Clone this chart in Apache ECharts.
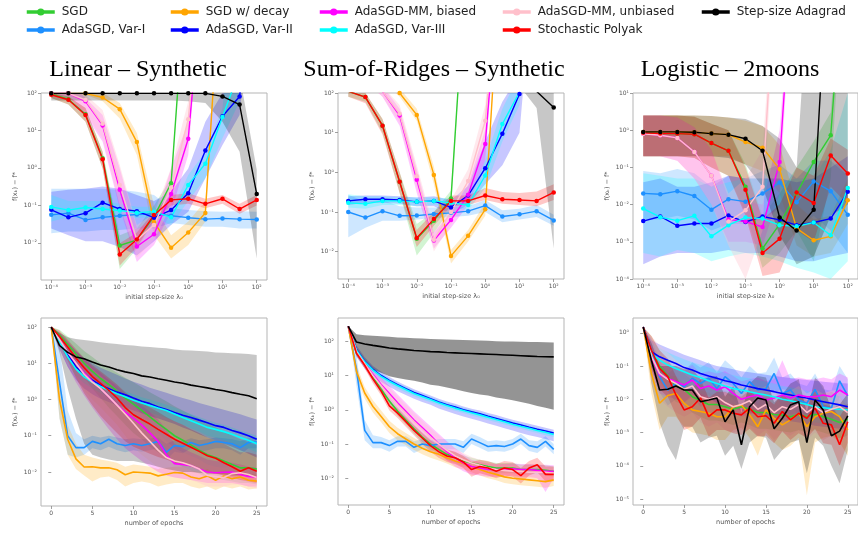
<!DOCTYPE html>
<html>
<head>
<meta charset="utf-8">
<script src="https://cdn.jsdelivr.net/npm/echarts@6/dist/echarts.min.js"></script>
<style>
  html, body { margin: 0; padding: 0; background: #fff; }
  #chart { width: 858px; height: 535px; }
</style>
</head>
<body>
<div id="chart"></div>
<script>
// x values
const steps = [1e-4, 3.16e-4, 1e-3, 3.16e-3, 1e-2, 3.16e-2, 1e-1, 3.16e-1, 1, 3.16, 10, 31.6, 100];
const epochs = [0, 1, 2, 3, 4, 5, 6, 7, 8, 9, 10, 11, 12, 13, 14, 15, 16, 17, 18, 19, 20, 21, 22, 23, 24, 25];
const stepTicks = [1e-4, 1e-3, 1e-2, 1e-1, 1, 10, 100];
const epochTicks = [0, 5, 10, 15, 20, 25];

const titles = ['Linear \u2013 Synthetic', 'Sum-of-Ridges \u2013 Synthetic', 'Logistic \u2013 2moons'];

// drawing order (same as the legend, column by column)
const keys = ['sgd', 'v1', 'decay', 'v2', 'mmb', 'v3', 'mmu', 'polyak', 'ada'];
const names = {
  sgd: 'SGD', v1: 'AdaSGD, Var-I', decay: 'SGD w/ decay', v2: 'AdaSGD, Var-II',
  mmb: 'AdaSGD-MM, biased', v3: 'AdaSGD, Var-III', mmu: 'AdaSGD-MM, unbiased',
  polyak: 'Stochastic Polyak', ada: 'Step-size Adagrad'
};
const colors = {
  sgd: '#32cd32', v1: '#1e90ff', decay: '#ffa500', v2: '#0000ff', mmb: '#ff00ff',
  v3: '#00ffff', mmu: '#ffc0cb', polyak: '#ff0000', ada: '#000000'
};

// ---- Linear - Synthetic, vs step-size ----
const linStepMid = {
  sgd:    [95, 68, 27, 1.8, 0.0085, 0.012, 0.05, 0.39, 1e6, 1e6, 1e6, 1e6, 1e6],
  decay:  [98, 98, 98, 76, 37, 4.9, 0.036, 0.0074, 0.019, 0.063, 1e6, 1e6, 1e6],
  mmb:    [98, 98, 60, 13.6, 0.26, 0.008, 0.017, 0.2, 6, 1e6, 1e6, 1e6, 1e6],
  mmu:    [98, 98, 65, 15, 0.35, 0.012, 0.03, 0.3, 20, 1e6, 1e6, 1e6, 1e6],
  ada:    [98, 98, 98, 98, 98, 98, 98, 98, 98, 98, 81, 49, 0.2],
  v1:     [0.056, 0.062, 0.041, 0.048, 0.053, 0.057, 0.06, 0.053, 0.047, 0.043, 0.045, 0.043, 0.042],
  v2:     [0.076, 0.048, 0.062, 0.118, 0.08, 0.07, 0.047, 0.075, 0.21, 2.9, 24, 81, 1e6],
  v3:     [0.091, 0.075, 0.088, 0.08, 0.073, 0.064, 0.068, 0.048, 0.35, 1.3, 23, 400, 1e6],
  polyak: [90, 66, 26, 1.7, 0.0049, 0.0123, 0.055, 0.14, 0.15, 0.11, 0.15, 0.08, 0.14]
};
const linStepLo = {
  sgd:    [73, 49, 17, 0.97, 0.002, 0.007, 0.037, 0.28, 1e6, 1e6, 1e6, 1e6, 1e6],
  decay:  [90, 90, 90, 60, 21, 2.2, 0.016, 0.0038, 0.0087, 0.037, 1e6, 1e6, 1e6],
  mmb:    [90, 81, 26, 5, 0.084, 0.0031, 0.0087, 0.068, 2.2, 1e6, 1e6, 1e6, 1e6],
  mmu:    [90, 81, 30, 6, 0.1, 0.004, 0.012, 0.1, 5, 1e6, 1e6, 1e6, 1e6],
  ada:    [63, 63, 63, 63, 63, 63, 63, 63, 60, 54, 17, 2.7, 0.0038],
  v1:     [0.018, 0.02, 0.02, 0.022, 0.022, 0.024, 0.024, 0.034, 0.03, 0.027, 0.027, 0.024, 0.024],
  v2:     [0.024, 0.016, 0.011, 0.011, 0.0077, 0.0046, 0.011, 0.03, 0.068, 0.53, 4.1, 26, 1e6],
  v3:     [0.037, 0.048, 0.046, 0.046, 0.048, 0.046, 0.048, 0.03, 0.13, 0.53, 6.2, 60, 1e6],
  polyak: [73, 49, 17, 0.97, 0.0025, 0.0077, 0.04, 0.1, 0.11, 0.084, 0.11, 0.06, 0.1]
};
const linStepHi = {
  sgd:    [100, 81, 40, 2.7, 0.016, 0.024, 0.1, 0.53, 1e6, 1e6, 1e6, 1e6, 1e6],
  decay:  [200, 200, 200, 100, 54, 8.5, 0.1, 0.016, 0.037, 0.13, 1e6, 1e6, 1e6],
  mmb:    [200, 200, 73, 26, 0.97, 0.024, 0.037, 0.97, 17, 1e6, 1e6, 1e6, 1e6],
  mmu:    [200, 200, 90, 35, 1.2, 0.03, 0.06, 1.0, 60, 1e6, 1e6, 1e6, 1e6],
  ada:    [300, 300, 300, 300, 300, 300, 300, 300, 300, 300, 300, 300, 0.9],
  v1:     [0.28, 0.28, 0.28, 0.28, 0.26, 0.23, 0.19, 0.084, 0.075, 0.07, 0.068, 0.07, 0.068],
  v2:     [0.23, 0.26, 0.28, 0.32, 0.28, 0.19, 0.13, 0.23, 0.97, 17, 100, 1e6, 1e6],
  v3:     [0.19, 0.13, 0.13, 0.13, 0.11, 0.092, 0.092, 0.068, 0.65, 2.7, 40, 1e6, 1e6],
  polyak: [100, 81, 40, 2.7, 0.0097, 0.019, 0.068, 0.19, 0.21, 0.15, 0.19, 0.11, 0.19]
};

// ---- Sum-of-Ridges - Synthetic, vs step-size ----
const ridgeStepMid = {
  sgd:    [110, 79, 15, 0.58, 0.021, 0.06, 0.22, 1e6, 1e6, 1e6, 1e6, 1e6, 1e6],
  decay:  [300, 300, 300, 100, 28, 0.86, 0.0078, 0.025, 0.117, 1e6, 1e6, 1e6, 1e6],
  mmb:    [300, 300, 110, 27, 0.65, 0.019, 0.063, 0.27, 5.2, 1e6, 1e6, 1e6, 1e6],
  mmu:    [300, 300, 110, 30, 0.8, 0.02, 0.1, 0.6, 20, 1e6, 1e6, 1e6, 1e6],
  ada:    [300, 300, 300, 300, 300, 300, 300, 300, 300, 300, 300, 110, 43],
  v1:     [0.1, 0.072, 0.105, 0.08, 0.081, 0.089, 0.095, 0.105, 0.145, 0.077, 0.087, 0.105, 0.061],
  v2:     [0.19, 0.21, 0.21, 0.2, 0.18, 0.19, 0.13, 0.26, 1.27, 9.4, 95, 1e6, 1e6],
  v3:     [0.17, 0.16, 0.19, 0.19, 0.18, 0.19, 0.17, 0.15, 0.83, 16.5, 105, 1e6, 1e6],
  polyak: [110, 79, 15, 0.58, 0.022, 0.066, 0.19, 0.19, 0.26, 0.21, 0.2, 0.19, 0.31]
};
const ridgeStepLo = {
  sgd:    [80, 60, 10, 0.3, 0.008, 0.03, 0.12, 1e6, 1e6, 1e6, 1e6, 1e6, 1e6],
  decay:  [200, 200, 200, 80, 20, 0.5, 0.005, 0.018, 0.08, 1e6, 1e6, 1e6, 1e6],
  mmb:    [200, 200, 80, 15, 0.3, 0.012, 0.04, 0.15, 2, 1e6, 1e6, 1e6, 1e6],
  mmu:    [200, 200, 80, 18, 0.4, 0.01, 0.05, 0.3, 8, 1e6, 1e6, 1e6, 1e6],
  ada:    [200, 200, 200, 200, 200, 200, 200, 200, 200, 200, 150, 42, 0.012],
  v1:     [0.023, 0.04, 0.06, 0.06, 0.065, 0.07, 0.075, 0.08, 0.1, 0.055, 0.065, 0.075, 0.045],
  v2:     [0.15, 0.17, 0.17, 0.16, 0.14, 0.14, 0.09, 0.15, 0.5, 1.5, 10, 1e6, 1e6],
  v3:     [0.13, 0.12, 0.15, 0.15, 0.14, 0.15, 0.13, 0.11, 0.4, 6, 50, 1e6, 1e6],
  polyak: [80, 55, 9, 0.3, 0.013, 0.045, 0.14, 0.15, 0.2, 0.16, 0.15, 0.14, 0.2]
};
const ridgeStepHi = {
  sgd:    [150, 100, 22, 1.0, 0.05, 0.1, 0.35, 1e6, 1e6, 1e6, 1e6, 1e6, 1e6],
  decay:  [500, 500, 500, 130, 40, 1.4, 0.011, 0.035, 0.17, 1e6, 1e6, 1e6, 1e6],
  mmb:    [500, 500, 150, 40, 1.2, 0.03, 0.1, 0.5, 12, 1e6, 1e6, 1e6, 1e6],
  mmu:    [500, 500, 150, 50, 1.5, 0.04, 0.2, 1.2, 50, 1e6, 1e6, 1e6, 1e6],
  ada:    [500, 500, 500, 500, 500, 500, 500, 500, 500, 500, 500, 500, 500],
  v1:     [0.27, 0.18, 0.2, 0.14, 0.13, 0.13, 0.13, 0.14, 0.2, 0.11, 0.12, 0.15, 0.085],
  v2:     [0.25, 0.26, 0.26, 0.25, 0.23, 0.25, 0.2, 0.45, 6, 60, 300, 1e6, 1e6],
  v3:     [0.28, 0.25, 0.25, 0.24, 0.23, 0.23, 0.22, 0.2, 2, 40, 300, 1e6, 1e6],
  polyak: [150, 100, 22, 1.0, 0.035, 0.1, 0.26, 0.26, 0.4, 0.32, 0.3, 0.33, 0.5]
};

// ---- Logistic - 2moons, vs step-size ----
const logStepMid = {
  sgd:    [0.85, 0.81, 0.81, 0.78, 0.45, 0.28, 0.03, 0.00066, 0.003, 0.02, 0.14, 0.73, 1e6],
  decay:  [0.9, 0.9, 0.9, 0.88, 0.81, 0.76, 0.48, 0.34, 0.09, 0.0023, 0.0011, 0.0014, 0.013],
  mmb:    [0.8, 0.73, 0.62, 0.26, 0.06, 0.004, 0.0035, 0.0025, 0.14, 1e6, 1e6, 1e6, 1e6],
  mmu:    [0.8, 0.73, 0.62, 0.26, 0.06, 0.0035, 0.007, 0.03, 1e6, 1e6, 1e6, 1e6, 1e6],
  ada:    [0.9, 0.9, 0.9, 0.88, 0.81, 0.76, 0.59, 0.28, 0.0045, 0.002, 0.0073, 1e6, 1e6],
  v1:     [0.02, 0.019, 0.023, 0.017, 0.0073, 0.014, 0.012, 0.02, 0.039, 0.0115, 0.042, 0.023, 0.0053],
  v2:     [0.0036, 0.0048, 0.0027, 0.0031, 0.0031, 0.0051, 0.0034, 0.0048, 0.0039, 0.0028, 0.0033, 0.0042, 0.022],
  v3:     [0.0078, 0.0046, 0.0037, 0.005, 0.0014, 0.0028, 0.0045, 0.0042, 0.0028, 0.0026, 0.0033, 0.0015, 0.028],
  polyak: [0.85, 0.81, 0.81, 0.78, 0.45, 0.28, 0.025, 0.0005, 0.0012, 0.021, 0.011, 0.21, 0.069]
};
const logStepLo = {
  sgd:    [0.2, 0.2, 0.2, 0.18, 0.1, 0.06, 0.006, 0.0002, 0.0005, 0.002, 0.0003, 0.05, 1e6],
  decay:  [0.2, 0.2, 0.2, 0.2, 0.2, 0.2, 0.12, 0.08, 0.02, 0.0008, 0.0004, 0.0005, 0.003],
  mmb:    [0.2, 0.2, 0.15, 0.05, 0.01, 0.001, 0.001, 0.0008, 0.02, 1e6, 1e6, 1e6, 1e6],
  mmu:    [0.2, 0.2, 0.15, 0.05, 0.01, 0.0008, 0.0001, 0.002, 1e6, 1e6, 1e6, 1e6, 1e6],
  ada:    [0.2, 0.2, 0.2, 0.2, 0.2, 0.18, 0.12, 0.03, 0.0015, 0.00025, 0.0004, 0.005, 0.01],
  v1:     [0.004, 0.004, 0.005, 0.004, 0.002, 0.003, 0.003, 0.004, 0.008, 0.002, 0.005, 0.002, 0.0005],
  v2:     [0.00025, 0.0004, 0.0005, 0.0005, 0.0005, 0.0006, 0.0005, 0.0005, 0.0004, 0.0003, 0.0003, 0.0004, 0.0005],
  v3:     [0.0005, 0.0004, 0.0006, 0.0005, 0.0003, 0.0004, 0.0005, 0.0004, 0.0003, 0.0002, 0.00015, 0.0001, 0.0003],
  polyak: [0.2, 0.2, 0.2, 0.18, 0.1, 0.06, 0.005, 0.00012, 0.00015, 0.002, 0.001, 0.03, 0.01]
};
const logStepHi = {
  sgd:    [2.5, 2.5, 2.5, 2.3, 1.5, 1.0, 0.12, 0.005, 0.02, 0.1, 0.5, 3, 1e6],
  decay:  [2.5, 2.5, 2.5, 2.5, 2.4, 2.2, 1.8, 1.3, 0.4, 0.01, 0.004, 0.005, 0.05],
  mmb:    [2.5, 2.5, 2.2, 1.2, 0.3, 0.015, 0.012, 0.01, 1.0, 1e6, 1e6, 1e6, 1e6],
  mmu:    [2.5, 2.5, 2.2, 1.2, 0.3, 0.02, 0.05, 0.3, 1e6, 1e6, 1e6, 1e6, 1e6],
  ada:    [2.5, 2.5, 2.5, 2.5, 2.4, 2.2, 2.0, 1.3, 0.6, 0.1, 1e6, 1e6, 1e6],
  v1:     [0.08, 0.07, 0.09, 0.07, 0.03, 0.06, 0.05, 0.08, 0.12, 0.05, 0.15, 0.15, 0.06],
  v2:     [0.04, 0.05, 0.03, 0.03, 0.04, 0.06, 0.05, 0.05, 0.05, 0.04, 0.05, 0.1, 0.2],
  v3:     [0.07, 0.06, 0.05, 0.05, 0.03, 0.04, 0.05, 0.05, 0.04, 0.05, 0.05, 0.3, 10],
  polyak: [2.5, 2.5, 2.5, 2.3, 1.5, 1.0, 0.1, 0.004, 0.01, 0.1, 0.06, 0.6, 0.3]
};

// ---- Linear - Synthetic, vs epochs ----
const linEpMid = {
  sgd:    [100, 60, 33, 18, 10, 6, 3.8, 2.6, 1.7, 1.1, 0.75, 0.5, 0.33, 0.22, 0.15, 0.1, 0.075, 0.055, 0.04, 0.03, 0.025, 0.02, 0.016, 0.013, 0.013, 0.012],
  decay:  [100, 1.0, 0.08, 0.023, 0.0137, 0.014, 0.013, 0.013, 0.0115, 0.0084, 0.01, 0.0097, 0.0093, 0.0078, 0.0087, 0.0097, 0.0093, 0.0073, 0.0065, 0.0078, 0.0059, 0.0078, 0.0065, 0.0073, 0.0059, 0.0056],
  mmb:    [100, 45, 20, 10, 5.5, 3.2, 2, 1.2, 0.7, 0.45, 0.3, 0.2, 0.12, 0.07, 0.03, 0.017, 0.016, 0.015, 0.012, 0.01, 0.0095, 0.0098, 0.01, 0.0085, 0.0075, 0.0072],
  mmu:    [100, 45, 20, 10, 5, 3, 2, 1.2, 0.7, 0.4, 0.22, 0.12, 0.07, 0.04, 0.025, 0.02, 0.018, 0.015, 0.012, 0.008, 0.0075, 0.007, 0.009, 0.0095, 0.0085, 0.007],
  ada:    [100, 31, 20, 15, 13.4, 10.8, 9, 7.9, 6.6, 5.8, 5.2, 4.5, 4.2, 3.75, 3.4, 3.05, 2.8, 2.5, 2.3, 2.1, 1.9, 1.75, 1.55, 1.4, 1.27, 1.05],
  v1:     [100, 3, 0.1, 0.047, 0.047, 0.07, 0.06, 0.08, 0.06, 0.054, 0.06, 0.054, 0.06, 0.07, 0.035, 0.054, 0.05, 0.065, 0.054, 0.06, 0.07, 0.065, 0.06, 0.047, 0.065, 0.068],
  v2:     [100, 43, 18, 7.9, 5.2, 3.4, 2.5, 2, 1.6, 1.35, 1.1, 0.9, 0.77, 0.62, 0.53, 0.44, 0.37, 0.32, 0.27, 0.23, 0.19, 0.17, 0.14, 0.12, 0.1, 0.08],
  v3:     [100, 40, 15, 7, 4.2, 3, 2.3, 1.8, 1.45, 1.2, 0.95, 0.8, 0.68, 0.58, 0.5, 0.4, 0.32, 0.26, 0.21, 0.17, 0.15, 0.13, 0.11, 0.09, 0.075, 0.06],
  polyak: [100, 55, 28, 14, 7.5, 4.3, 2.8, 1.8, 1.1, 0.6, 0.38, 0.28, 0.21, 0.15, 0.11, 0.08, 0.062, 0.048, 0.037, 0.028, 0.024, 0.018, 0.014, 0.0105, 0.013, 0.0105]
};
const linEpLo = {
  sgd:    [100, 40, 18, 8, 4, 2, 1.1, 0.6, 0.35, 0.2, 0.12, 0.08, 0.05, 0.035, 0.025, 0.018, 0.014, 0.011, 0.009, 0.007, 0.0065, 0.006, 0.0055, 0.005, 0.005, 0.0045],
  decay:  [100, 0.3, 0.03, 0.012, 0.008, 0.0055, 0.007, 0.0075, 0.006, 0.004, 0.005, 0.0055, 0.005, 0.004, 0.0045, 0.005, 0.005, 0.004, 0.0035, 0.004, 0.0032, 0.004, 0.0035, 0.004, 0.0033, 0.0035],
  mmb:    [100, 25, 8, 3, 1.3, 0.6, 0.3, 0.15, 0.08, 0.045, 0.03, 0.02, 0.014, 0.01, 0.008, 0.007, 0.0065, 0.006, 0.0055, 0.005, 0.005, 0.005, 0.005, 0.0045, 0.004, 0.004],
  mmu:    [100, 25, 9, 4, 1.8, 1, 0.6, 0.35, 0.2, 0.1, 0.05, 0.03, 0.02, 0.013, 0.009, 0.008, 0.007, 0.006, 0.005, 0.004, 0.004, 0.004, 0.0045, 0.0045, 0.004, 0.0035],
  ada:    [100, 20, 2, 0.3, 0.06, 0.03, 0.025, 0.022, 0.02, 0.02, 0.02, 0.018, 0.016, 0.014, 0.012, 0.011, 0.01, 0.01, 0.0095, 0.009, 0.009, 0.0085, 0.008, 0.008, 0.0075, 0.0075],
  v1:     [100, 0.3, 0.03, 0.025, 0.03, 0.045, 0.04, 0.05, 0.04, 0.035, 0.04, 0.036, 0.04, 0.045, 0.022, 0.036, 0.033, 0.045, 0.036, 0.04, 0.045, 0.045, 0.04, 0.03, 0.045, 0.045],
  v2:     [100, 25, 8, 3.5, 2, 1.4, 1.05, 0.85, 0.7, 0.6, 0.5, 0.42, 0.35, 0.3, 0.25, 0.21, 0.17, 0.14, 0.11, 0.09, 0.075, 0.06, 0.05, 0.04, 0.032, 0.025],
  v3:     [100, 28, 10, 4.5, 2.8, 2, 1.5, 1.2, 0.95, 0.8, 0.62, 0.52, 0.44, 0.37, 0.31, 0.25, 0.2, 0.16, 0.13, 0.1, 0.088, 0.075, 0.063, 0.052, 0.043, 0.035],
  polyak: [100, 35, 12, 4, 1.5, 0.7, 0.35, 0.2, 0.12, 0.07, 0.05, 0.04, 0.032, 0.026, 0.022, 0.018, 0.016, 0.014, 0.012, 0.01, 0.009, 0.008, 0.007, 0.006, 0.0055, 0.005]
};
const linEpHi = {
  sgd:    [100, 85, 55, 35, 22, 15, 10, 7.5, 5.5, 4, 3, 2.2, 1.6, 1.2, 0.9, 0.65, 0.5, 0.38, 0.3, 0.22, 0.17, 0.13, 0.1, 0.08, 0.065, 0.055],
  decay:  [100, 3, 0.2, 0.06, 0.03, 0.025, 0.022, 0.02, 0.018, 0.014, 0.016, 0.015, 0.014, 0.012, 0.013, 0.014, 0.014, 0.011, 0.01, 0.012, 0.009, 0.011, 0.01, 0.011, 0.009, 0.0085],
  mmb:    [100, 70, 40, 22, 13, 8, 5.5, 3.5, 2.3, 1.5, 1, 0.7, 0.45, 0.28, 0.15, 0.06, 0.045, 0.035, 0.028, 0.022, 0.02, 0.019, 0.018, 0.016, 0.014, 0.013],
  mmu:    [100, 70, 38, 20, 11, 7, 4.5, 3, 1.9, 1.2, 0.7, 0.4, 0.22, 0.12, 0.07, 0.045, 0.035, 0.028, 0.022, 0.016, 0.014, 0.013, 0.015, 0.016, 0.014, 0.012],
  ada:    [100, 70, 52, 47, 44, 41, 38, 36, 34, 32, 31, 29, 28, 27, 26, 24, 23, 22.5, 22, 21, 20, 19.5, 19, 18.5, 18, 17],
  v1:     [100, 30, 0.5, 0.12, 0.08, 0.1, 0.09, 0.1, 0.09, 0.08, 0.085, 0.08, 0.085, 0.09, 0.06, 0.075, 0.07, 0.085, 0.075, 0.08, 0.09, 0.085, 0.08, 0.07, 0.085, 0.09],
  v2:     [100, 70, 38, 22, 14, 10, 7.5, 6, 4.8, 3.8, 3.1, 2.6, 2.1, 1.8, 1.55, 1.3, 1.1, 0.95, 0.8, 0.7, 0.6, 0.52, 0.45, 0.39, 0.33, 0.28],
  v3:     [100, 55, 22, 10, 6, 4.3, 3.3, 2.6, 2.1, 1.7, 1.4, 1.15, 1.0, 0.85, 0.72, 0.6, 0.48, 0.4, 0.33, 0.27, 0.23, 0.2, 0.17, 0.14, 0.12, 0.1],
  polyak: [100, 80, 45, 25, 14, 9, 6, 4, 2.6, 1.6, 1.1, 0.8, 0.6, 0.45, 0.33, 0.25, 0.2, 0.15, 0.12, 0.09, 0.075, 0.06, 0.045, 0.035, 0.035, 0.03]
};

// ---- Sum-of-Ridges - Synthetic, vs epochs ----
const ridgeEpMid = {
  sgd:    [275, 45, 21, 9, 4, 1.8, 0.9, 0.5, 0.28, 0.16, 0.1, 0.07, 0.05, 0.04, 0.032, 0.028, 0.025, 0.022, 0.02, 0.02, 0.02, 0.018, 0.018, 0.018, 0.017, 0.016],
  decay:  [275, 13, 3.1, 1.25, 0.64, 0.32, 0.2, 0.14, 0.1, 0.075, 0.06, 0.05, 0.04, 0.032, 0.027, 0.022, 0.018, 0.015, 0.013, 0.011, 0.01, 0.0095, 0.009, 0.0085, 0.008, 0.009],
  mmb:    [275, 50, 22, 11, 5.5, 3, 1.6, 0.9, 0.5, 0.3, 0.18, 0.1, 0.06, 0.04, 0.028, 0.022, 0.02, 0.018, 0.018, 0.018, 0.019, 0.018, 0.018, 0.017, 0.016, 0.016],
  mmu:    [275, 50, 22, 10, 5, 2.6, 1.4, 0.8, 0.45, 0.27, 0.16, 0.1, 0.065, 0.045, 0.035, 0.028, 0.024, 0.02, 0.018, 0.017, 0.016, 0.016, 0.015, 0.015, 0.015, 0.014],
  ada:    [275, 95, 83, 76, 70, 64, 60, 57, 54, 52, 50, 49, 47, 46, 45, 44, 43, 42, 41, 40, 39, 38, 37, 36, 35.5, 35],
  v1:     [275, 15, 0.25, 0.11, 0.11, 0.09, 0.12, 0.12, 0.08, 0.1, 0.09, 0.1, 0.1, 0.1, 0.08, 0.14, 0.11, 0.085, 0.09, 0.085, 0.1, 0.14, 0.09, 0.08, 0.12, 0.07],
  v2:     [275, 57, 26, 15, 10, 7.2, 5.4, 4.1, 3.2, 2.6, 2.1, 1.7, 1.4, 1.2, 1.0, 0.87, 0.76, 0.65, 0.56, 0.48, 0.41, 0.36, 0.31, 0.27, 0.24, 0.21],
  v3:     [275, 55, 25, 14.5, 9.5, 6.8, 5.1, 3.9, 3, 2.45, 2, 1.6, 1.33, 1.12, 0.95, 0.82, 0.71, 0.61, 0.52, 0.45, 0.38, 0.33, 0.29, 0.25, 0.22, 0.19],
  polyak: [275, 45, 20, 8, 3.5, 1.3, 0.8, 0.45, 0.25, 0.15, 0.09, 0.06, 0.045, 0.04, 0.03, 0.018, 0.022, 0.02, 0.016, 0.02, 0.018, 0.012, 0.02, 0.025, 0.013, 0.013]
};
const ridgeEpLo = {
  sgd:    [275, 37, 17, 7, 3, 1.35, 0.67, 0.37, 0.2, 0.115, 0.072, 0.05, 0.035, 0.028, 0.022, 0.02, 0.018, 0.016, 0.014, 0.014, 0.014, 0.013, 0.013, 0.013, 0.012, 0.011],
  decay:  [275, 8.5, 2.1, 0.83, 0.43, 0.21, 0.13, 0.093, 0.067, 0.05, 0.04, 0.033, 0.027, 0.021, 0.018, 0.015, 0.012, 0.01, 0.0087, 0.0073, 0.0067, 0.0063, 0.006, 0.0057, 0.0053, 0.006],
  mmb:    [275, 40, 16, 7, 3.4, 1.7, 0.9, 0.5, 0.27, 0.16, 0.1, 0.055, 0.033, 0.022, 0.016, 0.013, 0.012, 0.011, 0.011, 0.011, 0.012, 0.011, 0.011, 0.01, 0.004, 0.01],
  mmu:    [275, 40, 16, 6.5, 3.1, 1.5, 0.8, 0.45, 0.25, 0.15, 0.09, 0.055, 0.038, 0.027, 0.022, 0.018, 0.016, 0.013, 0.012, 0.011, 0.011, 0.011, 0.01, 0.01, 0.01, 0.009],
  ada:    [275, 50, 23, 15, 12, 9.5, 8.5, 7.7, 7, 6.3, 5.4, 5, 4.5, 4, 3.5, 3.1, 2.8, 2.6, 2.3, 2.1, 1.9, 1.7, 1.5, 1.3, 1.15, 1.0],
  v1:     [275, 5, 0.13, 0.075, 0.075, 0.06, 0.085, 0.085, 0.055, 0.07, 0.063, 0.07, 0.07, 0.07, 0.055, 0.1, 0.078, 0.06, 0.063, 0.06, 0.07, 0.1, 0.063, 0.055, 0.085, 0.05],
  v2:     [275, 35, 16, 9.5, 6.5, 4.7, 3.5, 2.7, 2.1, 1.7, 1.4, 1.1, 0.9, 0.76, 0.64, 0.55, 0.47, 0.4, 0.34, 0.29, 0.25, 0.21, 0.18, 0.16, 0.14, 0.12],
  v3:     [275, 46, 21, 12, 8, 5.7, 4.2, 3.2, 2.5, 2, 1.65, 1.35, 1.1, 0.93, 0.8, 0.68, 0.59, 0.5, 0.43, 0.37, 0.32, 0.28, 0.24, 0.21, 0.18, 0.16],
  polyak: [275, 37, 16, 6, 2.6, 0.95, 0.58, 0.32, 0.18, 0.1, 0.06, 0.04, 0.03, 0.026, 0.02, 0.011, 0.014, 0.012, 0.01, 0.012, 0.011, 0.007, 0.012, 0.015, 0.008, 0.008]
};
const ridgeEpHi = {
  sgd:    [275, 55, 26, 11.5, 5.2, 2.4, 1.2, 0.68, 0.38, 0.22, 0.14, 0.1, 0.072, 0.058, 0.046, 0.04, 0.035, 0.031, 0.028, 0.028, 0.028, 0.025, 0.025, 0.025, 0.024, 0.022],
  decay:  [275, 20, 4.6, 1.9, 0.95, 0.48, 0.3, 0.21, 0.15, 0.11, 0.09, 0.075, 0.06, 0.048, 0.04, 0.033, 0.027, 0.023, 0.02, 0.017, 0.015, 0.014, 0.013, 0.013, 0.012, 0.013],
  mmb:    [275, 62, 30, 16, 8.5, 5, 2.8, 1.6, 0.9, 0.55, 0.33, 0.2, 0.12, 0.075, 0.05, 0.035, 0.03, 0.027, 0.026, 0.026, 0.027, 0.026, 0.026, 0.025, 0.025, 0.024],
  mmu:    [275, 62, 30, 15, 8, 4.4, 2.4, 1.4, 0.8, 0.48, 0.29, 0.18, 0.11, 0.075, 0.055, 0.042, 0.035, 0.03, 0.027, 0.025, 0.024, 0.024, 0.023, 0.022, 0.022, 0.021],
  ada:    [275, 160, 150, 145, 140, 135, 130, 126, 123, 120, 117, 115, 113, 111, 109, 107, 105, 103, 101, 99, 98, 97, 96, 95, 94, 93],
  v1:     [275, 40, 0.5, 0.18, 0.16, 0.13, 0.17, 0.17, 0.12, 0.14, 0.13, 0.14, 0.14, 0.14, 0.12, 0.2, 0.16, 0.12, 0.13, 0.12, 0.14, 0.2, 0.13, 0.12, 0.17, 0.1],
  v2:     [275, 75, 34, 19, 13, 9, 6.7, 5.1, 4, 3.2, 2.6, 2.1, 1.75, 1.5, 1.25, 1.08, 0.95, 0.81, 0.7, 0.6, 0.51, 0.45, 0.39, 0.34, 0.3, 0.26],
  v3:     [275, 66, 30, 17.5, 11.5, 8.2, 6.1, 4.7, 3.6, 2.9, 2.4, 1.9, 1.6, 1.35, 1.15, 0.98, 0.85, 0.73, 0.62, 0.54, 0.46, 0.4, 0.35, 0.3, 0.26, 0.23],
  polyak: [275, 55, 25, 10.5, 4.6, 1.8, 1.1, 0.62, 0.35, 0.21, 0.13, 0.09, 0.068, 0.06, 0.045, 0.03, 0.035, 0.032, 0.026, 0.032, 0.03, 0.02, 0.032, 0.04, 0.022, 0.022]
};

// ---- Logistic - 2moons, vs epochs ----
const logEpMid = {
  sgd:    [1.5, 0.28, 0.1, 0.05, 0.025, 0.02, 0.012, 0.009, 0.007, 0.007, 0.006, 0.005, 0.006, 0.005, 0.004, 0.004, 0.0035, 0.0033, 0.003, 0.0035, 0.003, 0.0035, 0.003, 0.0025, 0.002, 0.0025],
  decay:  [1.5, 0.06, 0.0076, 0.013, 0.015, 0.0076, 0.0048, 0.0043, 0.0038, 0.003, 0.003, 0.006, 0.0068, 0.0034, 0.0015, 0.0048, 0.0027, 0.0017, 0.0024, 0.0038, 0.0015, 0.003, 0.0038, 0.0043, 0.003, 0.0012],
  mmb:    [1.5, 0.19, 0.054, 0.043, 0.034, 0.027, 0.038, 0.021, 0.025, 0.019, 0.024, 0.015, 0.01, 0.012, 0.0135, 0.0095, 0.011, 0.0135, 0.011, 0.0135, 0.012, 0.012, 0.0135, 0.012, 0.019, 0.0135],
  mmu:    [1.5, 0.2, 0.06, 0.04, 0.03, 0.02, 0.025, 0.012, 0.01, 0.012, 0.008, 0.006, 0.007, 0.009, 0.005, 0.007, 0.004, 0.006, 0.005, 0.007, 0.004, 0.006, 0.004, 0.005, 0.006, 0.004],
  ada:    [1.5, 0.15, 0.019, 0.02, 0.025, 0.019, 0.019, 0.0085, 0.0095, 0.011, 0.0021, 0.0048, 0.00043, 0.006, 0.011, 0.0095, 0.0013, 0.0027, 0.0068, 0.0085, 0.0005, 0.0095, 0.0048, 0.0008, 0.0011, 0.0032],
  v1:     [1.5, 0.3, 0.048, 0.019, 0.03, 0.024, 0.043, 0.03, 0.043, 0.021, 0.048, 0.03, 0.015, 0.034, 0.019, 0.021, 0.06, 0.015, 0.019, 0.0095, 0.0076, 0.02, 0.006, 0.0054, 0.036, 0.0126],
  v2:     [1.5, 0.27, 0.19, 0.15, 0.12, 0.09, 0.076, 0.06, 0.05, 0.043, 0.036, 0.032, 0.027, 0.024, 0.021, 0.019, 0.017, 0.015, 0.0135, 0.012, 0.011, 0.0095, 0.0085, 0.0076, 0.0068, 0.006],
  v3:     [1.5, 0.24, 0.15, 0.107, 0.085, 0.068, 0.054, 0.045, 0.036, 0.03, 0.025, 0.021, 0.019, 0.017, 0.015, 0.0135, 0.012, 0.01, 0.009, 0.008, 0.007, 0.006, 0.0056, 0.0052, 0.005, 0.0048],
  polyak: [1.5, 0.3, 0.085, 0.048, 0.0135, 0.0048, 0.006, 0.011, 0.003, 0.0048, 0.0048, 0.0038, 0.0034, 0.0054, 0.003, 0.0032, 0.0019, 0.0043, 0.0024, 0.0038, 0.0027, 0.0054, 0.0019, 0.0017, 0.00043, 0.0021]
};
const logEpLo = {
  sgd:    [1.5, 0.09, 0.033, 0.017, 0.0083, 0.0067, 0.004, 0.003, 0.0023, 0.0023, 0.002, 0.0017, 0.002, 0.0017, 0.0013, 0.0013, 0.0012, 0.0011, 0.001, 0.0012, 0.001, 0.0012, 0.001, 0.00083, 0.00067, 0.00083],
  decay:  [1.5, 0.015, 0.0012, 0.003, 0.003, 0.0015, 0.001, 0.0009, 0.0008, 0.0006, 0.0006, 0.0012, 0.0014, 0.0007, 0.0002, 0.001, 0.0005, 0.0003, 0.0004, 0.0007, 0.000013, 0.0005, 0.0007, 0.0008, 0.0005, 0.0002],
  mmb:    [1.5, 0.07, 0.015, 0.012, 0.01, 0.008, 0.012, 0.006, 0.008, 0.006, 0.007, 0.004, 0.003, 0.0035, 0.004, 0.003, 0.0035, 0.004, 0.0035, 0.004, 0.0035, 0.0035, 0.004, 0.0035, 0.006, 0.004],
  mmu:    [1.5, 0.05, 0.01, 0.006, 0.004, 0.003, 0.004, 0.002, 0.0015, 0.002, 0.0012, 0.001, 0.0012, 0.0015, 0.0008, 0.0012, 0.0006, 0.001, 0.0008, 0.0012, 0.0006, 0.001, 0.0006, 0.0008, 0.001, 0.0006],
  ada:    [1.5, 0.03, 0.002, 0.0004, 0.00015, 0.0015, 0.0015, 0.0005, 0.0007, 0.0008, 0.0002, 0.0004, 0.00008, 0.0005, 0.0008, 0.0007, 0.00015, 0.0003, 0.0005, 0.0006, 0.00006, 0.0007, 0.0004, 0.0001, 0.00003, 0.0003],
  v1:     [1.5, 0.1, 0.016, 0.0065, 0.01, 0.008, 0.014, 0.01, 0.014, 0.007, 0.016, 0.01, 0.005, 0.011, 0.0065, 0.007, 0.02, 0.005, 0.0065, 0.0032, 0.0025, 0.0067, 0.002, 0.0018, 0.012, 0.0042],
  v2:     [1.5, 0.1, 0.06, 0.04, 0.03, 0.022, 0.017, 0.013, 0.01, 0.008, 0.0065, 0.0055, 0.0045, 0.004, 0.0035, 0.003, 0.0027, 0.0024, 0.0022, 0.002, 0.0018, 0.0016, 0.0015, 0.0014, 0.0013, 0.0012],
  v3:     [1.5, 0.09, 0.05, 0.035, 0.028, 0.022, 0.018, 0.015, 0.012, 0.01, 0.0083, 0.007, 0.0063, 0.0057, 0.005, 0.0045, 0.004, 0.0033, 0.003, 0.0027, 0.0023, 0.002, 0.0019, 0.0017, 0.0017, 0.0016],
  polyak: [1.5, 0.08, 0.02, 0.012, 0.0034, 0.0012, 0.0015, 0.0028, 0.00075, 0.0012, 0.0012, 0.00095, 0.00085, 0.0013, 0.00075, 0.0008, 0.00048, 0.0011, 0.0006, 0.00095, 0.00068, 0.0013, 0.00048, 0.00043, 0.0001, 0.0005]
};
const logEpHi = {
  sgd:    [1.5, 0.8, 0.3, 0.15, 0.075, 0.06, 0.036, 0.027, 0.021, 0.021, 0.018, 0.015, 0.018, 0.015, 0.012, 0.012, 0.0105, 0.01, 0.009, 0.0105, 0.009, 0.0105, 0.009, 0.0075, 0.006, 0.0075],
  decay:  [1.5, 0.2, 0.04, 0.05, 0.05, 0.03, 0.02, 0.018, 0.016, 0.013, 0.013, 0.025, 0.025, 0.014, 0.007, 0.02, 0.011, 0.008, 0.01, 0.015, 0.007, 0.012, 0.015, 0.017, 0.012, 0.006],
  mmb:    [1.5, 0.5, 0.15, 0.12, 0.1, 0.08, 0.11, 0.06, 0.07, 0.06, 0.07, 0.05, 0.035, 0.04, 0.045, 0.035, 0.04, 0.15, 0.04, 0.045, 0.04, 0.04, 0.045, 0.04, 0.06, 0.045],
  mmu:    [1.5, 0.8, 0.4, 0.25, 0.15, 0.1, 0.08, 0.05, 0.04, 0.04, 0.03, 0.025, 0.025, 0.03, 0.02, 0.025, 0.016, 0.02, 0.018, 0.025, 0.015, 0.02, 0.015, 0.018, 0.02, 0.015],
  ada:    [1.5, 0.5, 0.1, 0.1, 0.1, 0.08, 0.08, 0.04, 0.045, 0.05, 0.012, 0.025, 0.004, 0.03, 0.05, 0.045, 0.008, 0.014, 0.03, 0.04, 0.004, 0.045, 0.025, 0.005, 0.007, 0.015],
  v1:     [1.5, 0.7, 0.14, 0.06, 0.09, 0.07, 0.13, 0.09, 0.13, 0.065, 0.15, 0.09, 0.045, 0.1, 0.06, 0.065, 0.18, 0.045, 0.06, 0.03, 0.025, 0.06, 0.02, 0.018, 0.1, 0.04],
  v2:     [1.5, 0.6, 0.45, 0.35, 0.28, 0.22, 0.18, 0.15, 0.12, 0.1, 0.09, 0.08, 0.07, 0.065, 0.06, 0.055, 0.05, 0.047, 0.044, 0.041, 0.038, 0.036, 0.034, 0.032, 0.031, 0.03],
  v3:     [1.5, 0.5, 0.35, 0.26, 0.2, 0.16, 0.13, 0.11, 0.09, 0.075, 0.063, 0.053, 0.047, 0.043, 0.038, 0.034, 0.03, 0.025, 0.023, 0.02, 0.018, 0.015, 0.014, 0.013, 0.0125, 0.012],
  polyak: [1.5, 0.8, 0.3, 0.17, 0.05, 0.017, 0.021, 0.04, 0.011, 0.017, 0.017, 0.013, 0.012, 0.019, 0.011, 0.011, 0.007, 0.015, 0.0085, 0.013, 0.0095, 0.019, 0.007, 0.006, 0.003, 0.0075]
};

// panel layout
const panels = [
  { mid: linStepMid, lo: linStepLo, hi: linStepHi, xs: steps, byStep: true, ymin: 0.00102, ymax: 100, yticks: [1e-2, 1e-1, 1, 10, 100], grid: { left: 41, top: 93, width: 226, height: 187 } },
  { mid: ridgeStepMid, lo: ridgeStepLo, hi: ridgeStepHi, xs: steps, byStep: true, ymin: 0.00204, ymax: 100, yticks: [1e-2, 1e-1, 1, 10, 100], grid: { left: 338, top: 93, width: 226, height: 186 } },
  { mid: logStepMid, lo: logStepLo, hi: logStepHi, xs: steps, byStep: true, ymin: 1e-4, ymax: 10, yticks: [1e-4, 1e-3, 1e-2, 1e-1, 1, 10], grid: { left: 633, top: 93, width: 226, height: 186 } },
  { mid: linEpMid, lo: linEpLo, hi: linEpHi, xs: epochs, byStep: false, ymin: 0.00115, ymax: 178, yticks: [1e-2, 1e-1, 1, 10, 100], grid: { left: 41, top: 318, width: 226, height: 188 } },
  { mid: ridgeEpMid, lo: ridgeEpLo, hi: ridgeEpHi, xs: epochs, byStep: false, ymin: 0.00166, ymax: 479, yticks: [1e-2, 1e-1, 1, 10, 100], grid: { left: 338, top: 318, width: 226, height: 187 } },
  { mid: logEpMid, lo: logEpLo, hi: logEpHi, xs: epochs, byStep: false, ymin: 6.6e-6, ymax: 2.8, yticks: [1e-5, 1e-4, 1e-3, 1e-2, 1e-1, 1], grid: { left: 633, top: 318, width: 226, height: 187 } }
];

const SUP = { '0': '\u2070', '1': '\u00b9', '2': '\u00b2', '3': '\u00b3', '4': '\u2074', '5': '\u2075', '6': '\u2076', '7': '\u2077', '8': '\u2078', '9': '\u2079', '-': '\u207b' };
function pow10Label(v) {
  const e = Math.round(Math.log10(v));
  return '10' + String(e).split('').map(c => SUP[c]).join('');
}

const FONT = 'DejaVu Sans';
const tickLabel = { fontSize: 6, color: '#555', fontFamily: FONT, margin: 4 };
const tickStyle = { show: true, length: 3, lineStyle: { color: '#888', width: 0.8 } };

// shaded band between lo and hi, drawn through the axes' own scales
function bandSeries(gi, xs, lo, hi, color, op) {
  return {
    type: 'custom', xAxisIndex: gi, yAxisIndex: gi, silent: true, clip: true, z: 1,
    animation: false,
    data: [[xs[0], lo[0]]],
    renderItem: (params, api) => {
      const top = xs.map((x, j) => api.coord([x, hi[j]]));
      const bot = xs.map((x, j) => api.coord([x, lo[j]])).reverse();
      return {
        type: 'polygon',
        shape: { points: top.concat(bot) },
        style: { fill: color, opacity: op }
      };
    }
  };
}

const grids = [], xAxes = [], yAxes = [], series = [];
panels.forEach((p, gi) => {
  grids.push(Object.assign({ show: true, borderColor: '#b5b5b5', borderWidth: 1, containLabel: false }, p.grid));
  if (p.byStep) {
    xAxes.push({
      type: 'log', logBase: 10, gridIndex: gi, min: Math.pow(10, -4.3), max: Math.pow(10, 2.3),
      name: 'initial step-size \u03bb\u2080', nameLocation: 'middle', nameGap: 14,
      nameTextStyle: { fontSize: 6.5, color: '#555', fontFamily: FONT },
      axisLine: { show: false }, splitLine: { show: false }, minorTick: { show: false },
      axisTick: Object.assign({ customValues: stepTicks }, tickStyle),
      axisLabel: Object.assign({ customValues: stepTicks, formatter: pow10Label }, tickLabel)
    });
  } else {
    xAxes.push({
      type: 'value', gridIndex: gi, min: -1.25, max: 26.25,
      name: 'number of epochs', nameLocation: 'middle', nameGap: 14,
      nameTextStyle: { fontSize: 6.5, color: '#555', fontFamily: FONT },
      axisLine: { show: false }, splitLine: { show: false },
      axisTick: Object.assign({ customValues: epochTicks }, tickStyle),
      axisLabel: Object.assign({ customValues: epochTicks }, tickLabel)
    });
  }
  yAxes.push({
    type: 'log', logBase: 10, gridIndex: gi, min: p.ymin, max: p.ymax,
    name: 'f(x\u2096) \u2212 f*', nameLocation: 'middle', nameGap: 22, nameRotate: 90,
    nameTextStyle: { fontSize: 6.5, color: '#555', fontFamily: FONT },
    axisLine: { show: false }, splitLine: { show: false }, minorTick: { show: false },
    axisTick: Object.assign({ customValues: p.yticks }, tickStyle),
    axisLabel: Object.assign({ customValues: p.yticks, formatter: pow10Label }, tickLabel)
  });

  keys.forEach(k => {
    const op = (k === 'ada' && gi === 4) ? 0.42 : (k === 'mmu' ? 0.35 : 0.22);
    series.push(bandSeries(gi, p.xs, p.lo[k], p.hi[k], colors[k], op));
  });
  keys.forEach(k => {
    series.push({
      type: 'line', name: names[k], xAxisIndex: gi, yAxisIndex: gi,
      data: p.xs.map((x, j) => [x, p.mid[k][j]]),
      symbol: p.byStep ? 'circle' : 'none', symbolSize: 4.5, showSymbol: p.byStep,
      lineStyle: { color: colors[k], width: p.byStep ? 1.4 : 1.6 },
      itemStyle: { color: colors[k] },
      clip: true, z: 3, animation: false
    });
  });
});

const legendCols = [
  { left: 25, data: ['SGD', 'AdaSGD, Var-I'] },
  { left: 169, data: ['SGD w/ decay', 'AdaSGD, Var-II'] },
  { left: 318, data: ['AdaSGD-MM, biased', 'AdaSGD, Var-III'] },
  { left: 501, data: ['AdaSGD-MM, unbiased', 'Stochastic Polyak'] },
  { left: 700, data: ['Step-size Adagrad'] }
];
const legends = legendCols.map(c => ({
  left: c.left, top: 6, orient: 'vertical', data: c.data, padding: 0,
  itemWidth: 28, itemHeight: 9, itemGap: 6,
  lineStyle: { width: 3.5 },
  textStyle: { fontSize: 12, color: '#222', fontFamily: FONT, padding: [0, 0, 0, 2] },
  selectedMode: false
}));

const titleCenters = [138, 434, 730];
const titleOpts = titles.map((t, i) => ({
  text: t, left: titleCenters[i], top: 58, textAlign: 'center', padding: 0,
  textStyle: { fontFamily: 'Liberation Serif', fontSize: 24, fontWeight: 'normal', color: '#000' }
}));

const chart = echarts.init(document.getElementById('chart'), null, { renderer: 'canvas' });
chart.setOption({
  animation: false,
  backgroundColor: '#fff',
  title: titleOpts,
  legend: legends,
  grid: grids,
  xAxis: xAxes,
  yAxis: yAxes,
  series: series
});
</script>
</body>
</html>
